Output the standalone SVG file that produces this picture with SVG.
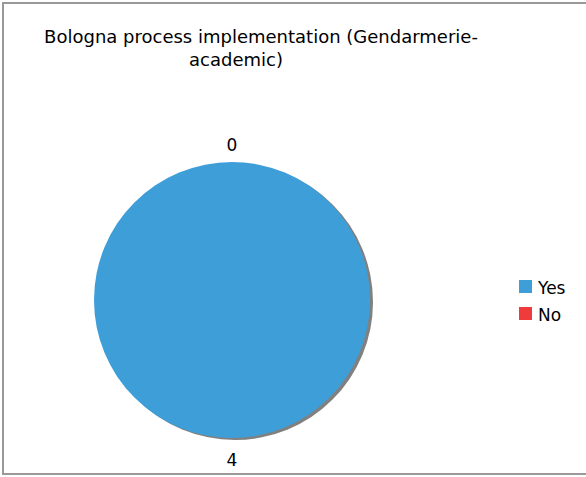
<svg xmlns="http://www.w3.org/2000/svg" width="586" height="477" viewBox="0 0 586 477">
<style>
text{font-family:"DejaVu Sans",Verdana,sans-serif;fill:#000;}
.t{font-size:18px;}
.l{font-size:17px;}
</style>
<rect x="0" y="0" width="586" height="477" fill="#fff"/>
<rect x="3" y="3" width="584" height="471" fill="none" stroke="#999" stroke-width="2"/>
<g id="title">
<text class="t" x="261" y="43" text-anchor="middle">Bologna process implementation (Gendarmerie-</text>
<text class="t" x="236" y="66" text-anchor="middle">academic)</text>
</g>
<g id="pie">
<circle cx="235" cy="302" r="138" fill="#808080"/>
<circle cx="232" cy="300" r="138" fill="#3e9fd8"/>
</g>
<g id="labels">
<text class="l" x="232" y="151" text-anchor="middle">0</text>
<text class="l" x="232" y="466" text-anchor="middle">4</text>
</g>
<g id="legend">
<rect x="519" y="280" width="13" height="13" fill="#3e9fd8"/>
<text class="l" x="538" y="294">Yes</text>
<rect x="519" y="307" width="13" height="13" fill="#ef3b3b"/>
<text class="l" x="538" y="321">No</text>
</g>
</svg>
